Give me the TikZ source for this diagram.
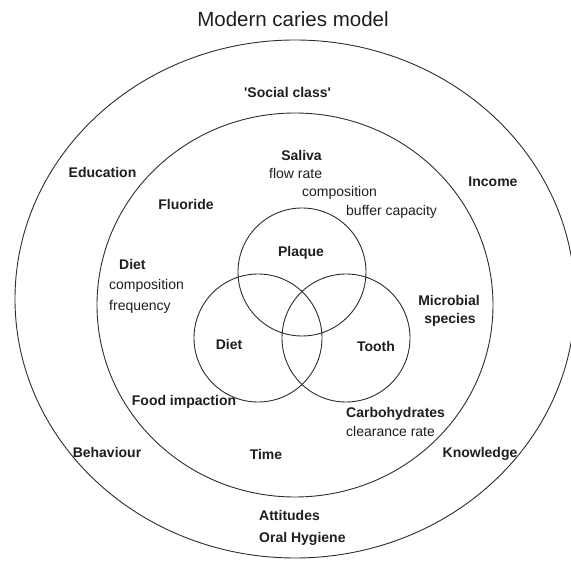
\documentclass[tikz,border=0pt]{standalone}
\usepackage{fontspec}
\setmainfont{Liberation Sans}
\usepackage{xcolor}
\usepackage{tikz}
\usetikzlibrary{positioning}
\definecolor{InkGray}{RGB}{30, 30, 34}
\definecolor{RingGray}{RGB}{45, 45, 45}

\begin{document}
\begin{tikzpicture}[
        x=1pt, y=1pt,
        ring/.style = {draw=RingGray, line width=0.9pt},
        lbl/.style = {inner sep=0pt, text height=10pt, text depth=0pt, text=InkGray, font=\fontsize{14}{16}\selectfont\bfseries},
        sub/.style = {inner sep=0pt, text height=10pt, text depth=0pt, text=InkGray, font=\fontsize{14}{16}\selectfont},
        headline/.style = {inner sep=0pt, text height=14.7pt, text depth=0pt, text=InkGray, font=\fontsize{20.5}{24}\selectfont}
    ]
        \useasboundingbox (0,0) rectangle (571,568);

        % Rings
        \draw [ring] (295,269) ellipse [x radius=280, y radius=259];
        \draw [ring] (295,263) ellipse [x radius=198, y radius=192];

        % Venn circles
        \draw [ring] (302,296) circle [radius=64];
        \draw [ring] (258,230) circle [radius=64];
        \draw [ring] (346,230) circle [radius=64];

        % Title
        \node (title_node) [headline] at (293,549) {Modern caries model};

        % Outer ring labels
        \node (social_node) [lbl] at (287.5,475) {\textquotesingle Social class\textquotesingle};
        \node (education_node) [lbl] at (102.5,395) {Education};
        \node (income_node) [lbl] at (493,386) {Income};
        \node (behaviour_node) [lbl] at (107,115) {Behaviour};
        \node (knowledge_node) [lbl] at (480,115) {Knowledge};
        \node (attitudes_node) [lbl, anchor=west] at (259,52) {Attitudes};
        \node (hygiene_node) [lbl, anchor=west] at (259,30) {Oral Hygiene};

        % Inner ring: saliva
        \node (saliva_node) [lbl] at (301.5,412) {Saliva};
        \node (flow_node) [sub, anchor=west] at (269,394) {flow rate};
        \node (salcomp_node) [sub, anchor=west] at (302,376) {composition};
        \node (buffer_node) [sub, anchor=west] at (346,357) {buffer capacity};

        % Inner ring: diet and others
        \node (fluoride_node) [lbl] at (186,363) {Fluoride};
        \node (dietout_node) [lbl, anchor=west] at (119,303) {Diet};
        \node (dietcomp_node) [sub, anchor=west] at (109,283) {composition};
        \node (freq_node) [sub, anchor=west] at (109,262) {frequency};
        \node (microbial_node) [lbl] at (449,267) {Microbial};
        \node (species_node) [lbl] at (450,249) {species};
        \node (food_node) [lbl] at (184,167) {Food impaction};
        \node (carbo_node) [lbl, anchor=west] at (346,155) {Carbohydrates};
        \node (clearance_node) [sub, anchor=west] at (346,136) {clearance rate};
        \node (time_node) [lbl] at (266,113) {Time};

        % Venn labels
        \node (plaque_node) [lbl] at (301,316) {Plaque};
        \node (diet_node) [lbl] at (229,223) {Diet};
        \node (tooth_node) [lbl] at (376,221) {Tooth};
\end{tikzpicture}
\end{document}
